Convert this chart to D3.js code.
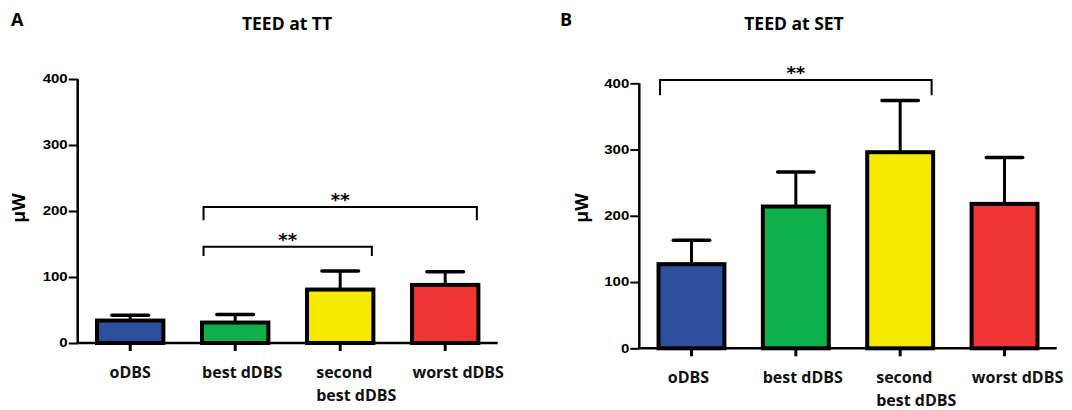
<!DOCTYPE html>
<html>
<head>
<meta charset="utf-8">
<script src="https://d3js.org/d3.v7.min.js"></script>
<style>
body { margin: 0; background: #fff; }
.tick text { font-family: "Liberation Sans", Arial, sans-serif; font-weight: bold; }
</style>
</head>
<body>
<svg id="chart" width="1072" height="410"></svg>
<script>
// categories and values
var categories = ["oDBS", "best dDBS", "second best dDBS", "worst dDBS"];
var labelLines = [["oDBS"], ["best dDBS"], ["second", "best dDBS"], ["worst dDBS"]];
var colors = ["#2d4f9e", "#0db04b", "#f5ea00", "#ee3435"];

var ttMean = [34, 31, 81, 88];
var ttErr  = [42, 43, 109, 108];
var setMean = [127, 214, 296, 218];
var setErr  = [163, 266, 374, 288];

var yTicks = [0, 100, 200, 300, 400];

// brackets: from category, to category, bar height, leg end, label
var ttBrackets = [
  { from: 1, to: 2, top: 146, leg: 132, label: "**" },
  { from: 1, to: 3, top: 206, leg: 186, label: "**" }
];
var setBrackets = [
  { from: 0, to: 2, top: 405, leg: 382, label: "**" }
];

var svg = d3.select("#chart");

function drawPanel(p) {
  var g = svg.append("g");

  var x = d3.scaleBand()
    .domain(categories)
    .range([p.left, p.right])
    .paddingInner(0.33)
    .paddingOuter(0.165);

  var y = d3.scaleLinear()
    .domain([0, 400])
    .range([p.bottom, p.top]);

  // panel letter + title
  g.append("text").attr("x", p.letterX).attr("y", 26)
    .attr("font-family", "'Open Sans', sans-serif").attr("font-weight", "bold")
    .attr("font-size", 18).text(p.letter);
  g.append("text").attr("x", p.titleX).attr("y", 30)
    .attr("text-anchor", "middle")
    .attr("font-family", "'Open Sans', sans-serif").attr("font-weight", "bold")
    .attr("font-size", 17.5).text(p.title);

  // y axis label
  g.append("text")
    .attr("transform", "translate(" + p.ylabX + ",208) rotate(-90)")
    .attr("text-anchor", "middle")
    .attr("font-family", "'Open Sans', sans-serif").attr("font-weight", "bold")
    .attr("font-size", 18).text("μW");

  // error bars (drawn before bars so stem starts at bar top)
  var w = x.bandwidth();
  categories.forEach(function(c, i) {
    var cx = x(c) + w / 2;
    g.append("line")
      .attr("x1", cx).attr("x2", cx)
      .attr("y1", y(p.mean[i])).attr("y2", y(p.err[i]))
      .attr("stroke", "#000").attr("stroke-width", 3);
    g.append("line")
      .attr("x1", cx - w * 0.26).attr("x2", cx + w * 0.26)
      .attr("y1", y(p.err[i])).attr("y2", y(p.err[i]))
      .attr("stroke", "#000").attr("stroke-width", 3.5)
      .attr("stroke-linecap", "round");
  });

  // bars
  g.selectAll("rect.bar")
    .data(categories)
    .enter().append("rect")
    .attr("class", "bar")
    .attr("x", function(d) { return x(d) + 2; })
    .attr("width", w - 4)
    .attr("y", function(d, i) { return y(p.mean[i]); })
    .attr("height", function(d, i) { return y(0) - y(p.mean[i]); })
    .attr("fill", function(d, i) { return colors[i]; })
    .attr("stroke", "#000")
    .attr("stroke-width", 4);

  // y axis
  var ya = g.append("g")
    .attr("transform", "translate(" + p.left + ",0)")
    .call(d3.axisLeft(y).tickValues(yTicks).tickSize(9).tickPadding(1));
  ya.select(".domain").attr("stroke-width", 2.5)
    .attr("d", "M0," + (y(400)) + "V" + y(0));
  ya.selectAll(".tick line").attr("stroke-width", 2);
  // the reference labels are a little wide, so stretch them
  ya.selectAll(".tick text")
    .attr("font-size", 12).attr("fill", "#000")
    .attr("x", 0).attr("transform", "translate(-10,0) scale(1.25,1)");

  // x axis
  var xa = g.append("g")
    .attr("transform", "translate(0," + p.bottom + ")")
    .call(d3.axisBottom(x).tickSize(0).tickFormat(""));
  xa.select(".domain").attr("stroke-width", 2.5)
    .attr("d", "M" + (p.left - 1) + ",0H" + p.right);
  xa.selectAll(".tick line").attr("y2", 8).attr("stroke-width", 3);

  // x labels
  categories.forEach(function(c, i) {
    var cx = x(c) + w / 2;
    var lines = labelLines[i];
    var t = g.append("text")
      .attr("font-family", "'Open Sans', sans-serif").attr("font-weight", "bold")
      .attr("font-size", 16).attr("fill", "#111");
    if (lines.length > 1) {
      t.attr("text-anchor", "start");
      lines.forEach(function(l, k) {
        t.append("tspan").attr("x", cx - 24).attr("y", p.bottom + 35 + k * 23).text(l);
      });
    } else {
      t.attr("text-anchor", "middle").attr("x", cx + p.labShift[i]).attr("y", p.bottom + 35).text(lines[0]);
    }
  });

  // significance brackets
  p.brackets.forEach(function(b) {
    var x1 = x(categories[b.from]) + w * 0.05;
    var x2 = x(categories[b.to]) + w * 0.95;
    g.append("path")
      .attr("d", "M" + x1 + "," + y(b.leg) + "V" + y(b.top) + "H" + x2 + "V" + y(b.leg))
      .attr("fill", "none").attr("stroke", "#000").attr("stroke-width", 2);
    g.append("text")
      .attr("x", (x1 + x2) / 2).attr("y", y(b.top) - 1)
      .attr("text-anchor", "middle")
      .attr("font-family", "'DejaVu Sans', sans-serif").attr("font-weight", "bold")
      .attr("font-size", 18).text(b.label);
  });
}

drawPanel({
  letter: "A", letterX: 11, title: "TEED at TT", titleX: 287, ylabX: 25,
  left: 77.7, right: 497.7, top: 79, bottom: 343,
  mean: ttMean, err: ttErr, brackets: ttBrackets, labShift: [0, 7, 0, 13]
});

drawPanel({
  letter: "B", letterX: 560, title: "TEED at SET", titleX: 794, ylabX: 588,
  left: 639.3, right: 1056.7, top: 83.3, bottom: 348.3,
  mean: setMean, err: setErr, brackets: setBrackets, labShift: [-3, 7, 0, 13]
});
</script>
</body>
</html>
